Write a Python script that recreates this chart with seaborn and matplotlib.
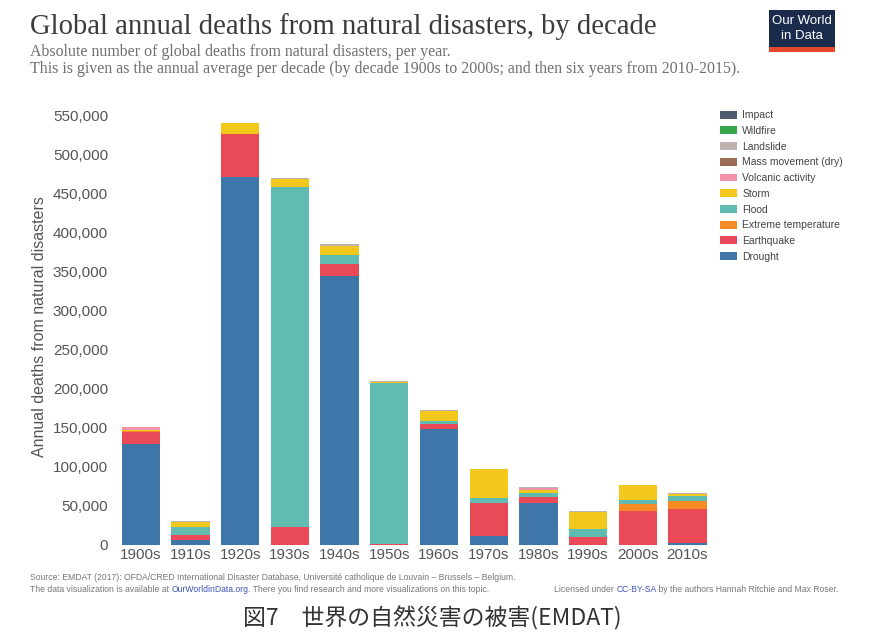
import numpy as np
import pandas as pd
import matplotlib
matplotlib.use("Agg")
import matplotlib.pyplot as plt
from matplotlib.patches import Patch, Rectangle
import seaborn as sns

# annual deaths per decade
decades = ["1900s", "1910s", "1920s", "1930s", "1940s", "1950s",
           "1960s", "1970s", "1980s", "1990s", "2000s", "2010s"]
drought = [128800, 7000, 471500, 0, 344600, 0, 149000, 11300, 54000, 0, 0, 2800]
earthquake = [16200, 6400, 55600, 22800, 15000, 1000, 6400, 42800, 7700, 10000, 44200, 42700]
extreme_temp = [1000, 0, 0, 0, 0, 500, 0, 0, 0, 300, 8500, 11100]
flood = [0, 10000, 0, 436000, 11500, 205500, 2900, 6400, 5100, 9800, 5600, 6000]
storm = [2000, 6400, 13200, 10300, 12000, 2000, 13700, 36300, 4300, 22700, 18300, 2600]
volcanic = [3400, 0, 0, 0, 0, 0, 0, 0, 2000, 0, 0, 0]
mass_movement = [300, 0, 200, 0, 0, 0, 0, 300, 0, 0, 0, 0]
landslide = [0, 500, 800, 800, 2500, 700, 400, 500, 600, 900, 900, 1500]
wildfire = [0, 0, 0, 0, 0, 0, 0, 0, 0, 0, 0, 0]
impact = [0, 0, 0, 0, 0, 0, 0, 0, 0, 0, 0, 0]

types = ["Impact", "Wildfire", "Landslide", "Mass movement (dry)", "Volcanic activity",
         "Storm", "Flood", "Extreme temperature", "Earthquake", "Drought"]
colors = ["#4d5b6d", "#3aa64c", "#bdb3ae", "#9c6b58", "#f291a9",
          "#f2c81c", "#60bcb1", "#f68b24", "#ea4a58", "#3e76aa"]
series = [impact, wildfire, landslide, mass_movement, volcanic,
          storm, flood, extreme_temp, earthquake, drought]

rows = []
for t, vals in zip(types, series):
    for d, v in zip(decades, vals):
        rows.append({"decade": d, "type": t, "deaths": v})
df = pd.DataFrame(rows)

sns.set_style("white")
plt.rcParams["font.family"] = ["Liberation Sans", "DejaVu Sans"]

fig = plt.figure(figsize=(8.79, 6.41), dpi=100)
W, H = 879, 641
ax = fig.add_axes([115 / W, 96 / H, 735 / W, 437 / H])

# stacked bars; seaborn puts the last hue level at the bottom
sns.histplot(data=df, x="decade", hue="type", weights="deaths",
             hue_order=types, palette=colors, multiple="stack", discrete=True,
             shrink=0.77, alpha=1, linewidth=0, edgecolor="none",
             legend=False, ax=ax)

ax.set_xlim(-0.52, 14.27)
ax.set_ylim(0, 560000)
ax.set_yticks(np.arange(0, 550001, 50000))
ax.set_yticklabels([f"{v:,}" for v in range(0, 550001, 50000)])
ax.set_xticks(range(len(decades)))
ax.set_xticklabels(decades)
ax.tick_params(axis="both", length=0, labelsize=11, labelcolor="#555555")
ax.tick_params(axis="x", pad=2)
ax.tick_params(axis="y", pad=5)
ax.set_xlabel("")
ax.set_ylabel("Annual deaths from natural disasters", fontsize=11.5, color="#555555")
ax.yaxis.set_label_coords(-0.092, 0.5)
sns.despine(ax=ax, left=True, bottom=True)

handles = [Patch(facecolor=c, edgecolor="none", label=t) for t, c in zip(types, colors)]
leg = ax.legend(handles=handles, loc="upper left", bbox_to_anchor=(715 / W, 1 - 105 / H),
                bbox_transform=fig.transFigure, frameon=False, fontsize=7.5,
                handlelength=1.6, handleheight=0.8, handletextpad=0.5,
                labelspacing=0.55, borderpad=0)
for txt in leg.get_texts():
    txt.set_color("#444444")

# titles
fig.text(30 / W, 1 - 27 / H, "Global annual deaths from natural disasters, by decade",
         family="Liberation Serif", fontsize=20.6, color="#3c3c3c", va="center", ha="left")
fig.text(30 / W, 1 - 52 / H, "Absolute number of global deaths from natural disasters, per year.",
         family="Liberation Serif", fontsize=11.4, color="#6e6e6e", va="center", ha="left")
fig.text(30 / W, 1 - 69 / H,
         "This is given as the annual average per decade (by decade 1900s to 2000s; "
         "and then six years from 2010-2015).",
         family="Liberation Serif", fontsize=11.4, color="#6e6e6e", va="center", ha="left")

# logo
fig.patches.append(Rectangle((769 / W, 1 - 47 / H), 66 / W, 37 / H,
                             transform=fig.transFigure, facecolor="#1a2b4c", edgecolor="none"))
fig.patches.append(Rectangle((769 / W, 1 - 52 / H), 66 / W, 5 / H,
                             transform=fig.transFigure, facecolor="#e5482b", edgecolor="none"))
fig.text(802 / W, 1 - 21 / H, "Our World", fontsize=9.5, color="white", ha="center", va="center")
fig.text(802 / W, 1 - 36 / H, "in Data", fontsize=9.5, color="white", ha="center", va="center")

# footer, pieces placed one after another
renderer = fig.canvas.get_renderer()


def run_text(x, y, pieces, size=6.2):
    for s, c in pieces:
        t = fig.text(x / W, 1 - y / H, s, fontsize=size, color=c, va="center", ha="left")
        x += t.get_window_extent(renderer).width


grey = "#777777"
blue = "#3d55b8"
run_text(30, 578, [("Source: EMDAT (2017): OFDA/CRED International Disaster Database, "
                    "Université catholique de Louvain – Brussels – Belgium.", grey)])
run_text(30, 590, [("The data visualization is available at ", grey), ("OurWorldinData.org", blue),
                   (". There you find research and more visualizations on this topic.", grey)])
run_text(554, 590, [("Licensed under ", grey), ("CC-BY-SA", blue),
                    (" by the authors Hannah Ritchie and Max Roser.", grey)])

fig.text(432 / W, 1 - 618 / H, "図7　世界の自然災害の被害(EMDAT)",
         family=["Noto Sans CJK JP", "DejaVu Sans"], fontsize=16.5, color="#333333",
         ha="center", va="center")

fig.savefig("out.png", dpi=100)
